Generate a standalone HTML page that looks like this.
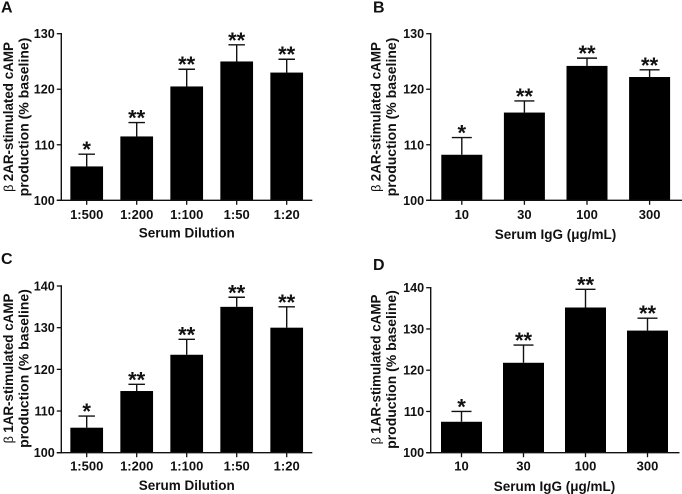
<!DOCTYPE html>
<html>
<head>
<meta charset="utf-8">
<title>cAMP production panels</title>
<style>
html,body{margin:0;padding:0;background:#fff;width:682px;height:494px;overflow:hidden}
svg{display:block;filter:blur(0.35px)}
text{font-family:"Liberation Sans",sans-serif;font-weight:bold;fill:#111}
.tick{font-size:13px}
.ytick{font-size:12.6px}
.title{font-size:13.5px}
.ylab{font-size:13.4px}
.ylab2{font-size:14px}
.beta{font-weight:normal;font-size:12.5px}
.letter{font-size:16px}
.star{font-size:22px}
</style>
</head>
<body>
<svg id="figure" xmlns="http://www.w3.org/2000/svg" width="682" height="494" viewBox="0 0 682 494"></svg>
<script>
const categoriesDilution = ['1:500', '1:200', '1:100', '1:50', '1:20'];
const categoriesIgG = ['10', '30', '100', '300'];
const ticksTop = [100, 110, 120, 130];
const ticksBottom = [100, 110, 120, 130, 140];

const valuesA = [106.1, 111.5, 120.5, 125, 123];
const errorTopsA = [108.3, 114, 123.6, 128, 125.4];
const starsA = ['*', '**', '**', '**', '**'];

const valuesB = [108.2, 115.8, 124.2, 122.2];
const errorTopsB = [111.3, 117.9, 125.6, 123.5];
const starsB = ['*', '**', '**', '**'];

const valuesC = [106, 114.8, 123.5, 135, 130];
const errorTopsC = [108.8, 116.4, 127.2, 137.3, 135];
const starsC = ['*', '**', '**', '**', '**'];

const valuesD = [107.5, 121.8, 135.2, 129.6];
const errorTopsD = [110, 126.1, 139.6, 132.6];
const starsD = ['*', '**', '**', '**'];

const NS = 'http://www.w3.org/2000/svg';
const fig = document.getElementById('figure');

function mk(tag, attrs, parent, txt) {
  const el = document.createElementNS(NS, tag);
  for (const k in attrs) el.setAttribute(k, attrs[k]);
  if (txt !== undefined) el.textContent = txt;
  parent.appendChild(el);
  return el;
}

function drawPanel(p) {
  const g = mk('g', {}, fig);
  
  

  const vMin = p.ticks[0];
  const vMax = p.ticks[p.ticks.length - 1];
  const yScale = v => p.yBottom - (v - vMin) / (vMax - vMin) * (p.yBottom - p.yTop);
  const xScale = i => p.xFirst + i * p.xStep;

  const letter = mk('text', {x: p.letterX, y: p.letterY, class: 'letter'}, g, p.id);
  
  

  p.values.forEach((v, i) => {
    const cx = xScale(i);
    const yV = yScale(v);
    const yE = yScale(p.errorTops[i]);

    const bar = mk('rect', {x: cx - p.barW / 2, y: yV, width: p.barW, height: p.yBottom - yV, fill: '#000'}, g);
    
    

    const stem = mk('line', {x1: cx, x2: cx, y1: yV, y2: yE, stroke: '#111', 'stroke-width': 1.4}, g);
    
    

    const cap = mk('line', {x1: cx - p.capW / 2, x2: cx + p.capW / 2, y1: yE, y2: yE, stroke: '#111', 'stroke-width': 1.4}, g);
    
    

    const star = mk('text', {x: cx, y: yE + 3, class: 'star', 'text-anchor': 'middle'}, g, p.stars[i]);
    
    

    const tick = mk('line', {x1: cx, x2: cx, y1: p.yBottom, y2: p.yBottom + 4.5, stroke: '#111', 'stroke-width': 1.3}, g);
    
    

    const label = mk('text', {x: cx, y: p.xTickY, class: 'tick', 'text-anchor': 'middle'}, g, p.categories[i]);
    
    
  });

  const xAxis = mk('line', {x1: p.xAxis - 4.5, x2: p.xEnd, y1: p.yBottom, y2: p.yBottom, stroke: '#111', 'stroke-width': 1.4}, g);
  
  

  const yAxis = mk('line', {x1: p.xAxis, x2: p.xAxis, y1: p.yTop - 0.7, y2: p.yBottom + 0.7, stroke: '#111', 'stroke-width': 1.4}, g);
  
  

  p.ticks.forEach(t => {
    const y = yScale(t);
    const tick = mk('line', {x1: p.xAxis - 4.5, x2: p.xAxis, y1: y, y2: y, stroke: '#111', 'stroke-width': 1.3}, g);
    
    

    const label = mk('text', {x: p.xAxis - 6.5, y: y + 4.5, class: 'ytick', 'text-anchor': 'end'}, g, String(t));
    
    
  });

  const xTitle = mk('text', {x: p.xTitleX, y: p.xTitleY, class: 'title', 'text-anchor': 'middle'}, g, p.xTitle);
  
  

  const yLine1 = mk('text', {x: 0, y: 0, class: 'ylab', 'text-anchor': 'middle', transform: 'translate(' + p.yLab1X + ' ' + p.yLabY + ') rotate(-90)'}, g);
  mk('tspan', {class: 'beta'}, yLine1, '\u03B2 ');
  mk('tspan', {}, yLine1, p.yTitle);
  
  

  const yLine2 = mk('text', {x: 0, y: 0, class: 'ylab2', 'text-anchor': 'middle', transform: 'translate(' + (p.yLab1X + 15.6) + ' ' + p.yLabY + ') rotate(-90)'}, g, 'production (% baseline)');
  
  
}

drawPanel({id: 'A', letterX: 1, letterY: 12.5, categories: categoriesDilution, ticks: ticksTop, values: valuesA, errorTops: errorTopsA, stars: starsA,
  yTop: 33.7, yBottom: 200.3, xAxis: 61.3, xEnd: 312.3, xFirst: 86.7, xStep: 50, barW: 32.7, capW: 16.5,
  xTickY: 219, xTitle: 'Serum Dilution', xTitleX: 186.7, xTitleY: 237.5, yTitle: '2AR-stimulated cAMP', yLab1X: 12.8, yLabY: 117});

drawPanel({id: 'B', letterX: 373, letterY: 12.5, categories: categoriesIgG, ticks: ticksTop, values: valuesB, errorTops: errorTopsB, stars: starsB,
  yTop: 33.7, yBottom: 200.3, xAxis: 430.7, xEnd: 682, xFirst: 461.8, xStep: 62.6, barW: 41, capW: 20,
  xTickY: 219, xTitle: 'Serum IgG (\u03BCg/mL)', xTitleX: 555.5, xTitleY: 239, yTitle: '2AR-stimulated cAMP', yLab1X: 380.5, yLabY: 117});

drawPanel({id: 'C', letterX: 1, letterY: 264, categories: categoriesDilution, ticks: ticksBottom, values: valuesC, errorTops: errorTopsC, stars: starsC,
  yTop: 286, yBottom: 452.7, xAxis: 61.3, xEnd: 312.3, xFirst: 86.7, xStep: 50, barW: 32.7, capW: 16.5,
  xTickY: 470.5, xTitle: 'Serum Dilution', xTitleX: 186.7, xTitleY: 490, yTitle: '1AR-stimulated cAMP', yLab1X: 12.8, yLabY: 368.5});

drawPanel({id: 'D', letterX: 373, letterY: 270, categories: categoriesIgG, ticks: ticksBottom, values: valuesD, errorTops: errorTopsD, stars: starsD,
  yTop: 287.7, yBottom: 452.7, xAxis: 430.7, xEnd: 679.5, xFirst: 461.5, xStep: 62, barW: 41, capW: 20,
  xTickY: 470.5, xTitle: 'Serum IgG (\u03BCg/mL)', xTitleX: 554.5, xTitleY: 491, yTitle: '1AR-stimulated cAMP', yLab1X: 380.5, yLabY: 369.5});
</script>
</body>
</html>
